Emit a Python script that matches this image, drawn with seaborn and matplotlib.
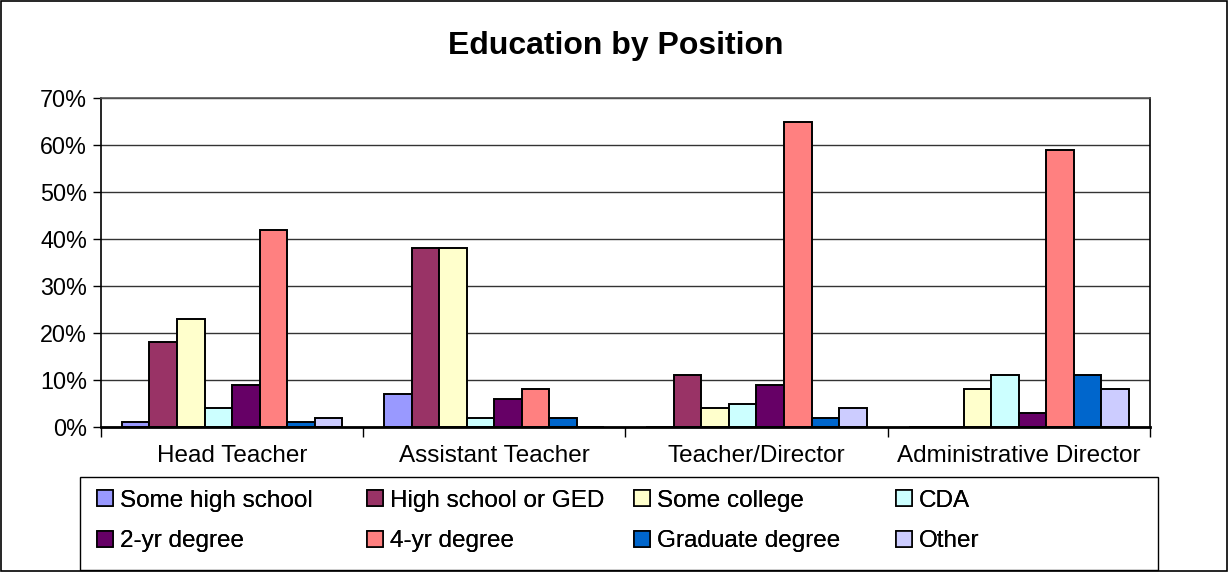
import pandas as pd
import numpy as np
import seaborn as sns
import matplotlib.pyplot as plt
from matplotlib.patches import Rectangle, Patch
from matplotlib.ticker import PercentFormatter

positions = ['Head Teacher', 'Assistant Teacher', 'Teacher/Director', 'Administrative Director']
levels = ['Some high school', 'High school or GED', 'Some college', 'CDA',
          '2-yr degree', '4-yr degree', 'Graduate degree', 'Other']

head_teacher = [1, 18, 23, 4, 9, 42, 1, 2]
assistant_teacher = [7, 38, 38, 2, 6, 8, 2, 0]
teacher_director = [0, 11, 4, 5, 9, 65, 2, 4]
admin_director = [0, 0, 8, 11, 3, 59, 11, 8]

colors = ['#9999FF', '#993366', '#FFFFCC', '#CCFFFF',
          '#660066', '#FF8080', '#0066CC', '#CCCCFF']

rows = []
for pos, vals in zip(positions, [head_teacher, assistant_teacher, teacher_director, admin_director]):
    for lev, v in zip(levels, vals):
        rows.append({'Position': pos, 'Education': lev, 'Pct': v})
df = pd.DataFrame(rows)

sns.set_style('white')
plt.rcParams['font.family'] = ['Liberation Sans', 'DejaVu Sans']
plt.rcParams['text.color'] = 'black'
plt.rcParams['xtick.color'] = 'black'
plt.rcParams['ytick.color'] = 'black'

fig = plt.figure(figsize=(12.31, 5.72), dpi=100)
ax = fig.add_axes([0.082, 0.2535, 0.852, 0.575])

sns.barplot(data=df, x='Position', y='Pct', hue='Education', order=positions,
            hue_order=levels, palette=colors, width=0.84, gap=0,
            edgecolor='black', linewidth=1.4, saturation=1, ax=ax, legend=False)

ax.set_ylim(0, 70)
ax.set_xlim(-0.5, 3.5)
ax.set_yticks(np.arange(0, 71, 10))
ax.yaxis.set_major_formatter(PercentFormatter(decimals=0))
ax.yaxis.grid(True, color='#333333', linewidth=1)
ax.set_axisbelow(True)
ax.set_xlabel('')
ax.set_ylabel('')
for s in ax.spines.values():
    s.set_color('black')
    s.set_linewidth(1.2)
ax.spines['top'].set_color('#555555')
ax.spines['bottom'].set_linewidth(2)

ax.tick_params(axis='y', which='major', direction='out', length=6, width=1,
               left=True, labelsize=16.8, pad=4)
ax.tick_params(axis='x', which='major', length=0, labelsize=17.5, pad=13)
ax.set_xticks(np.arange(-0.5, 3.6, 1), minor=True)
ax.tick_params(axis='x', which='minor', direction='out', length=7, width=1,
               bottom=True)

fig.text(0.5, 0.92, 'Education by Position', ha='center', va='center',
         fontsize=23, fontweight='bold')

# Excel-style legend: four equal-width columns, two rows
col_x = [97, 367, 634, 896]
for c in range(4):
    idx = [c, c + 4]
    handles = [Patch(facecolor=colors[i], edgecolor='black', linewidth=1.2) for i in idx]
    leg = fig.legend(handles, [levels[i] for i in idx], loc='center left',
                     bbox_to_anchor=(col_x[c] / 1231, 1 - 521 / 572),
                     frameon=False, fontsize=17.5, handlelength=0.66, handleheight=0.66,
                     handletextpad=0.29, labelspacing=0.78, borderaxespad=0,
                     borderpad=0)
    fig.add_artist(leg)

# legend box
fig.add_artist(Rectangle((0.065, 0.0035), 0.876, 0.1626, transform=fig.transFigure,
                         fill=False, edgecolor='black', linewidth=1))

fig.add_artist(Rectangle((0.001, 0.002), 0.996, 0.996, transform=fig.transFigure,
                         fill=False, edgecolor='black', linewidth=1.2))

fig.savefig('out.png', dpi=100)
